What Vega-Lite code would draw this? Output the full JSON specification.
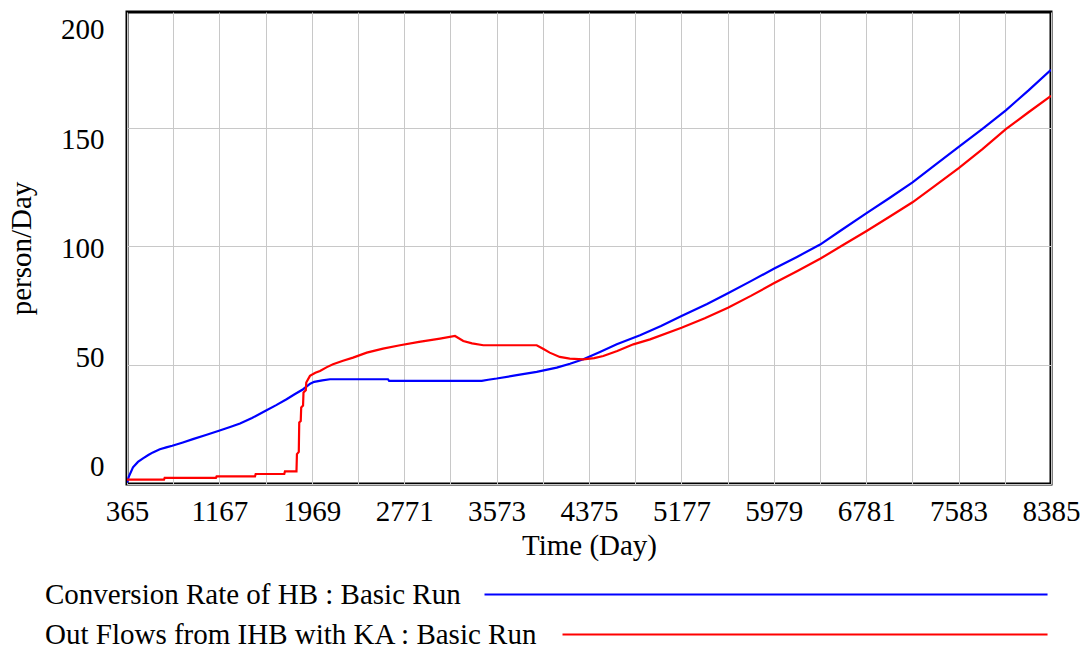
{
  "$schema": "https://vega.github.io/schema/vega-lite/v6.json",
  "width": 924,
  "height": 472,
  "autosize": {"type": "none"},
  "padding": {"left": 127, "top": 12, "right": 34, "bottom": 164},
  "background": "white",
  "config": {
    "view": {"stroke": "black", "strokeWidth": 3},
    "font": "Liberation Serif",
    "axis": {"labelFont": "Liberation Serif", "titleFont": "Liberation Serif", "labelColor": "black", "titleColor": "black", "labelFontSize": 29, "titleFontSize": 29, "titleFontWeight": "normal", "gridColor": "#c8c8c8", "gridWidth": 1},
    "legend": {"labelFont": "Liberation Serif", "labelFontSize": 29, "labelColor": "black"}
  },
  "data": {"values": [
    {"day": 365, "value": 0.5, "series": "Conversion Rate of HB : Basic Run"},
    {"day": 380, "value": 3, "series": "Conversion Rate of HB : Basic Run"},
    {"day": 417, "value": 7, "series": "Conversion Rate of HB : Basic Run"},
    {"day": 460, "value": 9.3, "series": "Conversion Rate of HB : Basic Run"},
    {"day": 504, "value": 10.8, "series": "Conversion Rate of HB : Basic Run"},
    {"day": 550, "value": 12.2, "series": "Conversion Rate of HB : Basic Run"},
    {"day": 590, "value": 13.3, "series": "Conversion Rate of HB : Basic Run"},
    {"day": 650, "value": 14.6, "series": "Conversion Rate of HB : Basic Run"},
    {"day": 706, "value": 15.4, "series": "Conversion Rate of HB : Basic Run"},
    {"day": 758, "value": 16.1, "series": "Conversion Rate of HB : Basic Run"},
    {"day": 850, "value": 17.5, "series": "Conversion Rate of HB : Basic Run"},
    {"day": 937, "value": 18.9, "series": "Conversion Rate of HB : Basic Run"},
    {"day": 1050, "value": 20.6, "series": "Conversion Rate of HB : Basic Run"},
    {"day": 1163, "value": 22.4, "series": "Conversion Rate of HB : Basic Run"},
    {"day": 1260, "value": 24, "series": "Conversion Rate of HB : Basic Run"},
    {"day": 1346, "value": 25.5, "series": "Conversion Rate of HB : Basic Run"},
    {"day": 1450, "value": 27.8, "series": "Conversion Rate of HB : Basic Run"},
    {"day": 1568, "value": 30.8, "series": "Conversion Rate of HB : Basic Run"},
    {"day": 1660, "value": 33.2, "series": "Conversion Rate of HB : Basic Run"},
    {"day": 1750, "value": 35.7, "series": "Conversion Rate of HB : Basic Run"},
    {"day": 1820, "value": 37.8, "series": "Conversion Rate of HB : Basic Run"},
    {"day": 1894, "value": 39.9, "series": "Conversion Rate of HB : Basic Run"},
    {"day": 1955, "value": 42.2, "series": "Conversion Rate of HB : Basic Run"},
    {"day": 1990, "value": 43, "series": "Conversion Rate of HB : Basic Run"},
    {"day": 2060, "value": 43.6, "series": "Conversion Rate of HB : Basic Run"},
    {"day": 2127, "value": 44.1, "series": "Conversion Rate of HB : Basic Run"},
    {"day": 2630, "value": 44.1, "series": "Conversion Rate of HB : Basic Run"},
    {"day": 2640, "value": 43.4, "series": "Conversion Rate of HB : Basic Run"},
    {"day": 3444, "value": 43.4, "series": "Conversion Rate of HB : Basic Run"},
    {"day": 3500, "value": 43.9, "series": "Conversion Rate of HB : Basic Run"},
    {"day": 3574, "value": 44.4, "series": "Conversion Rate of HB : Basic Run"},
    {"day": 3748, "value": 45.8, "series": "Conversion Rate of HB : Basic Run"},
    {"day": 3921, "value": 47.2, "series": "Conversion Rate of HB : Basic Run"},
    {"day": 4095, "value": 49.0, "series": "Conversion Rate of HB : Basic Run"},
    {"day": 4210, "value": 50.6, "series": "Conversion Rate of HB : Basic Run"},
    {"day": 4326, "value": 52.5, "series": "Conversion Rate of HB : Basic Run"},
    {"day": 4470, "value": 55.6, "series": "Conversion Rate of HB : Basic Run"},
    {"day": 4616, "value": 58.8, "series": "Conversion Rate of HB : Basic Run"},
    {"day": 4818, "value": 62.6, "series": "Conversion Rate of HB : Basic Run"},
    {"day": 5000, "value": 66.5, "series": "Conversion Rate of HB : Basic Run"},
    {"day": 5178, "value": 70.7, "series": "Conversion Rate of HB : Basic Run"},
    {"day": 5400, "value": 75.8, "series": "Conversion Rate of HB : Basic Run"},
    {"day": 5581, "value": 80.3, "series": "Conversion Rate of HB : Basic Run"},
    {"day": 5780, "value": 85.4, "series": "Conversion Rate of HB : Basic Run"},
    {"day": 5979, "value": 90.6, "series": "Conversion Rate of HB : Basic Run"},
    {"day": 6180, "value": 95.6, "series": "Conversion Rate of HB : Basic Run"},
    {"day": 6381, "value": 100.8, "series": "Conversion Rate of HB : Basic Run"},
    {"day": 6554, "value": 106.5, "series": "Conversion Rate of HB : Basic Run"},
    {"day": 6781, "value": 113.9, "series": "Conversion Rate of HB : Basic Run"},
    {"day": 6980, "value": 120.3, "series": "Conversion Rate of HB : Basic Run"},
    {"day": 7183, "value": 127, "series": "Conversion Rate of HB : Basic Run"},
    {"day": 7380, "value": 134.3, "series": "Conversion Rate of HB : Basic Run"},
    {"day": 7584, "value": 141.9, "series": "Conversion Rate of HB : Basic Run"},
    {"day": 7790, "value": 149.5, "series": "Conversion Rate of HB : Basic Run"},
    {"day": 7993, "value": 157.3, "series": "Conversion Rate of HB : Basic Run"},
    {"day": 8190, "value": 165.7, "series": "Conversion Rate of HB : Basic Run"},
    {"day": 8385, "value": 174.4, "series": "Conversion Rate of HB : Basic Run"},
    {"day": 365, "value": 1.8, "series": "Out Flows from IHB with KA : Basic Run"},
    {"day": 686, "value": 1.8, "series": "Out Flows from IHB with KA : Basic Run"},
    {"day": 692, "value": 2.6, "series": "Out Flows from IHB with KA : Basic Run"},
    {"day": 1137, "value": 2.6, "series": "Out Flows from IHB with KA : Basic Run"},
    {"day": 1143, "value": 3.2, "series": "Out Flows from IHB with KA : Basic Run"},
    {"day": 1476, "value": 3.2, "series": "Out Flows from IHB with KA : Basic Run"},
    {"day": 1482, "value": 4.2, "series": "Out Flows from IHB with KA : Basic Run"},
    {"day": 1730, "value": 4.2, "series": "Out Flows from IHB with KA : Basic Run"},
    {"day": 1736, "value": 5.3, "series": "Out Flows from IHB with KA : Basic Run"},
    {"day": 1836, "value": 5.3, "series": "Out Flows from IHB with KA : Basic Run"},
    {"day": 1840, "value": 12.6, "series": "Out Flows from IHB with KA : Basic Run"},
    {"day": 1856, "value": 13.5, "series": "Out Flows from IHB with KA : Basic Run"},
    {"day": 1860, "value": 25.9, "series": "Out Flows from IHB with KA : Basic Run"},
    {"day": 1873, "value": 26.5, "series": "Out Flows from IHB with KA : Basic Run"},
    {"day": 1877, "value": 32.2, "series": "Out Flows from IHB with KA : Basic Run"},
    {"day": 1893, "value": 33, "series": "Out Flows from IHB with KA : Basic Run"},
    {"day": 1897, "value": 38.5, "series": "Out Flows from IHB with KA : Basic Run"},
    {"day": 1917, "value": 39.5, "series": "Out Flows from IHB with KA : Basic Run"},
    {"day": 1921, "value": 42.7, "series": "Out Flows from IHB with KA : Basic Run"},
    {"day": 1953, "value": 45.5, "series": "Out Flows from IHB with KA : Basic Run"},
    {"day": 2000, "value": 46.8, "series": "Out Flows from IHB with KA : Basic Run"},
    {"day": 2040, "value": 47.6, "series": "Out Flows from IHB with KA : Basic Run"},
    {"day": 2100, "value": 49.2, "series": "Out Flows from IHB with KA : Basic Run"},
    {"day": 2153, "value": 50.4, "series": "Out Flows from IHB with KA : Basic Run"},
    {"day": 2240, "value": 51.9, "series": "Out Flows from IHB with KA : Basic Run"},
    {"day": 2327, "value": 53.2, "series": "Out Flows from IHB with KA : Basic Run"},
    {"day": 2446, "value": 55.3, "series": "Out Flows from IHB with KA : Basic Run"},
    {"day": 2587, "value": 57, "series": "Out Flows from IHB with KA : Basic Run"},
    {"day": 2735, "value": 58.4, "series": "Out Flows from IHB with KA : Basic Run"},
    {"day": 2900, "value": 59.8, "series": "Out Flows from IHB with KA : Basic Run"},
    {"day": 3082, "value": 61.2, "series": "Out Flows from IHB with KA : Basic Run"},
    {"day": 3212, "value": 62.3, "series": "Out Flows from IHB with KA : Basic Run"},
    {"day": 3284, "value": 60.2, "series": "Out Flows from IHB with KA : Basic Run"},
    {"day": 3360, "value": 59.2, "series": "Out Flows from IHB with KA : Basic Run"},
    {"day": 3458, "value": 58.4, "series": "Out Flows from IHB with KA : Basic Run"},
    {"day": 3921, "value": 58.4, "series": "Out Flows from IHB with KA : Basic Run"},
    {"day": 3980, "value": 56.8, "series": "Out Flows from IHB with KA : Basic Run"},
    {"day": 4034, "value": 55.3, "series": "Out Flows from IHB with KA : Basic Run"},
    {"day": 4121, "value": 53.5, "series": "Out Flows from IHB with KA : Basic Run"},
    {"day": 4208, "value": 52.8, "series": "Out Flows from IHB with KA : Basic Run"},
    {"day": 4326, "value": 52.5, "series": "Out Flows from IHB with KA : Basic Run"},
    {"day": 4420, "value": 53.0, "series": "Out Flows from IHB with KA : Basic Run"},
    {"day": 4499, "value": 53.9, "series": "Out Flows from IHB with KA : Basic Run"},
    {"day": 4620, "value": 56, "series": "Out Flows from IHB with KA : Basic Run"},
    {"day": 4760, "value": 58.8, "series": "Out Flows from IHB with KA : Basic Run"},
    {"day": 4905, "value": 60.9, "series": "Out Flows from IHB with KA : Basic Run"},
    {"day": 5178, "value": 65.8, "series": "Out Flows from IHB with KA : Basic Run"},
    {"day": 5380, "value": 69.8, "series": "Out Flows from IHB with KA : Basic Run"},
    {"day": 5581, "value": 74.2, "series": "Out Flows from IHB with KA : Basic Run"},
    {"day": 5780, "value": 79.2, "series": "Out Flows from IHB with KA : Basic Run"},
    {"day": 5979, "value": 84.5, "series": "Out Flows from IHB with KA : Basic Run"},
    {"day": 6180, "value": 89.6, "series": "Out Flows from IHB with KA : Basic Run"},
    {"day": 6381, "value": 94.8, "series": "Out Flows from IHB with KA : Basic Run"},
    {"day": 6580, "value": 100.6, "series": "Out Flows from IHB with KA : Basic Run"},
    {"day": 6781, "value": 106.4, "series": "Out Flows from IHB with KA : Basic Run"},
    {"day": 6980, "value": 112.4, "series": "Out Flows from IHB with KA : Basic Run"},
    {"day": 7183, "value": 118.6, "series": "Out Flows from IHB with KA : Basic Run"},
    {"day": 7380, "value": 125.6, "series": "Out Flows from IHB with KA : Basic Run"},
    {"day": 7584, "value": 133, "series": "Out Flows from IHB with KA : Basic Run"},
    {"day": 7790, "value": 141, "series": "Out Flows from IHB with KA : Basic Run"},
    {"day": 7993, "value": 149.4, "series": "Out Flows from IHB with KA : Basic Run"},
    {"day": 8190, "value": 156.5, "series": "Out Flows from IHB with KA : Basic Run"},
    {"day": 8385, "value": 163.4, "series": "Out Flows from IHB with KA : Basic Run"}
  ]},
  "layer": [
    {
      "mark": {"type": "line", "strokeWidth": 2.2, "clip": true},
      "encoding": {
        "x": {
          "field": "day", "type": "quantitative",
          "scale": {"domain": [365, 8385], "nice": false, "zero": false},
          "axis": {
            "values": [365, 766, 1167, 1568, 1969, 2370, 2771, 3172, 3573, 3974, 4375, 4776, 5177, 5578, 5979, 6380, 6781, 7182, 7583, 7984, 8385],
            "labelExpr": "(datum.value - 365) % 802 === 0 ? format(datum.value, 'd') : ''",
            "title": "Time (Day)",
            "grid": true, "ticks": false, "domain": false,
            "labelPadding": 13, "titlePadding": 5,
            "labelFlush": false, "labelOverlap": false
          }
        },
        "y": {
          "field": "value", "type": "quantitative",
          "scale": {"domain": [0, 198.7], "nice": false, "zero": false},
          "axis": {"values": [0, 50, 100, 150], "labels": false, "ticks": false, "domain": false, "title": null, "grid": true}
        },
        "color": {
          "field": "series", "type": "nominal",
          "scale": {"domain": ["Conversion Rate of HB : Basic Run", "Out Flows from IHB with KA : Basic Run"], "range": ["#0000ff", "#ff0000"]},
          "legend": {
            "orient": "none", "legendX": -82, "legendY": 568,
            "title": null, "padding": 0, "labelLimit": 0,
            "labelOffset": -775, "symbolOffset": 746,
            "symbolSize": 576, "symbolStrokeWidth": 2,
            "rowPadding": 10, "direction": "vertical",
            "encode": {
              "symbols": {
                "update": {
                  "shape": {"signal": "datum.label === 'Conversion Rate of HB : Basic Run' ? 'M-26.75,0H20.17' : 'M-20.25,0H20.17'"}
                }
              }
            }
          }
        }
      }
    },
    {
      "mark": {"type": "point", "opacity": 0},
      "encoding": {
        "x": {"field": "day", "type": "quantitative"},
        "y": {
          "field": "value", "type": "quantitative",
          "scale": {"domain": [-7.78, 208.2], "nice": false, "zero": false},
          "axis": {"orient": "left", "values": [0, 50, 100, 150, 200], "grid": false, "ticks": false, "domain": false, "labelPadding": 23, "title": "person/Day", "titlePadding": 24}
        }
      }
    }
  ],
  "resolve": {"scale": {"y": "independent"}}
}
